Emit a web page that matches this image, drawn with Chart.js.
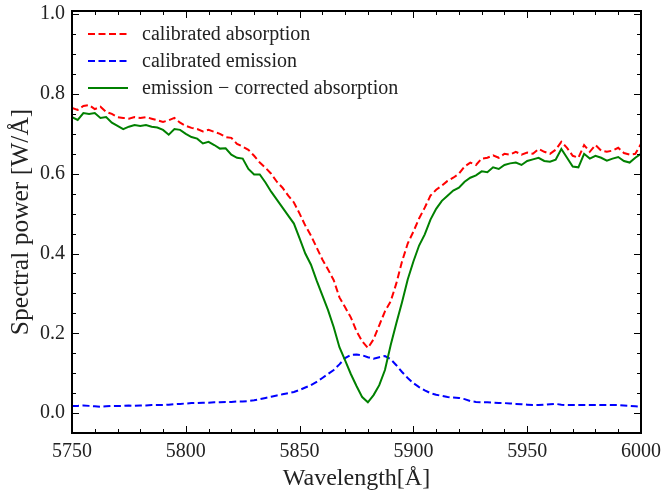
<!DOCTYPE html>
<html>
<head>
<meta charset="utf-8">
<script src="https://cdn.jsdelivr.net/npm/chart.js@4.4.0/dist/chart.umd.min.js"></script>
<style>
  html, body { margin: 0; padding: 0; background: #fff; }
  #wrap { width: 663px; height: 493px; }
</style>
</head>
<body>
<div id="wrap"><canvas id="chart" width="663" height="493"></canvas></div>
<script>
// wavelength grid (Å)
const wavelength = [
  5750, 5752.5, 5755, 5757.5, 5760, 5762.5, 5765, 5767.5, 5770, 5772.5,
  5775, 5777.5, 5780, 5782.5, 5785, 5787.5, 5790, 5792.5, 5795, 5797.5,
  5800, 5802.5, 5805, 5807.5, 5810, 5812.5, 5815, 5817.5, 5820, 5822.5,
  5825, 5827.5, 5830, 5832.5, 5835, 5837.5, 5840, 5842.5, 5845, 5847.5,
  5850, 5852.5, 5855, 5857.5, 5860, 5862.5, 5865, 5867.5, 5870, 5872.5,
  5875, 5877.5, 5880, 5882.5, 5885, 5887.5, 5890, 5892.5, 5895, 5897.5,
  5900, 5902.5, 5905, 5907.5, 5910, 5912.5, 5915, 5917.5, 5920, 5922.5,
  5925, 5927.5, 5930, 5932.5, 5935, 5937.5, 5940, 5942.5, 5945, 5947.5,
  5950, 5952.5, 5955, 5957.5, 5960, 5962.5, 5965, 5967.5, 5970, 5972.5,
  5975, 5977.5, 5980, 5982.5, 5985, 5987.5, 5990, 5992.5, 5995, 5997.5,
  6000
];

const absorption = [
  0.765, 0.760, 0.770, 0.772, 0.762, 0.768, 0.755, 0.750, 0.742, 0.740,
  0.738, 0.742, 0.740, 0.742, 0.738, 0.734, 0.730, 0.734, 0.740, 0.728,
  0.720, 0.715, 0.712, 0.706, 0.710, 0.705, 0.700, 0.692, 0.690, 0.675,
  0.668, 0.660, 0.645, 0.628, 0.615, 0.600, 0.580, 0.565, 0.545, 0.528,
  0.500, 0.470, 0.445, 0.415, 0.385, 0.360, 0.333, 0.290, 0.265, 0.240,
  0.205, 0.180, 0.163, 0.185, 0.220, 0.255, 0.280, 0.325, 0.380, 0.425,
  0.455, 0.488, 0.515, 0.545, 0.560, 0.570, 0.582, 0.590, 0.600, 0.618,
  0.628, 0.622, 0.638, 0.640, 0.646, 0.640, 0.650, 0.648, 0.655, 0.648,
  0.653, 0.650, 0.662, 0.655, 0.650, 0.660, 0.680, 0.665, 0.645, 0.640,
  0.672, 0.655, 0.672, 0.658, 0.655, 0.658, 0.665, 0.652, 0.648, 0.650,
  0.675
];

const emission = [
  0.018, 0.018, 0.019, 0.018, 0.017, 0.016, 0.017, 0.018, 0.018, 0.018,
  0.019, 0.018, 0.019, 0.019, 0.020, 0.020, 0.020, 0.021, 0.022, 0.023,
  0.024, 0.025, 0.025, 0.026, 0.026, 0.027, 0.027, 0.028, 0.028, 0.029,
  0.029, 0.030, 0.032, 0.035, 0.038, 0.041, 0.044, 0.047, 0.050, 0.053,
  0.058, 0.064, 0.070, 0.078, 0.088, 0.098, 0.108, 0.122, 0.138, 0.146,
  0.147, 0.145, 0.140, 0.136, 0.140, 0.143, 0.135, 0.120, 0.103, 0.088,
  0.075, 0.065, 0.057, 0.050, 0.046, 0.043, 0.040, 0.039, 0.038, 0.035,
  0.030, 0.028, 0.027, 0.027, 0.026, 0.025, 0.025, 0.024, 0.023, 0.022,
  0.021, 0.020, 0.020, 0.021, 0.022, 0.023, 0.021, 0.020, 0.020, 0.020,
  0.020, 0.020, 0.020, 0.020, 0.020, 0.020, 0.020, 0.019, 0.018, 0.017,
  0.016
];

const corrected = [
  0.742, 0.735, 0.752, 0.750, 0.752, 0.740, 0.742, 0.728, 0.720, 0.712,
  0.718, 0.722, 0.720, 0.722, 0.718, 0.716, 0.710, 0.698, 0.712, 0.710,
  0.700, 0.692, 0.688, 0.676, 0.680, 0.672, 0.663, 0.664, 0.648, 0.640,
  0.638, 0.612, 0.598, 0.598, 0.578, 0.555, 0.535, 0.515, 0.495, 0.475,
  0.438, 0.400, 0.372, 0.332, 0.295, 0.258, 0.215, 0.165, 0.132, 0.098,
  0.068, 0.040, 0.027, 0.045, 0.070, 0.108, 0.170, 0.225, 0.278, 0.335,
  0.380, 0.420, 0.448, 0.485, 0.512, 0.532, 0.545, 0.558, 0.565, 0.580,
  0.590, 0.596, 0.606, 0.604, 0.616, 0.612, 0.622, 0.626, 0.628, 0.622,
  0.632, 0.636, 0.640, 0.632, 0.630, 0.635, 0.662, 0.640, 0.618, 0.616,
  0.650, 0.638, 0.645, 0.640, 0.633, 0.638, 0.642, 0.632, 0.628, 0.640,
  0.650
];

const seriesLabels = ["calibrated absorption", "calibrated emission", "emission \u2212 corrected absorption"];
const xTicks = [5750, 5800, 5850, 5900, 5950, 6000];
const yTicks = [0.0, 0.2, 0.4, 0.6, 0.8, 1.0];

const serif = "'Liberation Serif', 'DejaVu Serif', serif";

const toPoints = (ys) => wavelength.map((x, i) => ({ x: x, y: ys[i] }));

// frame with inward ticks on all four sides
const framePlugin = {
  id: "frame",
  afterDraw(chart) {
    const { ctx, chartArea: a, scales } = chart;
    const xs = scales.x, ys = scales.y;
    ctx.save();
    ctx.strokeStyle = "#000";
    ctx.lineWidth = 1;
    ctx.beginPath();
    // x ticks: major every 50, minor every 10
    for (let v = 5750; v <= 6000; v += 10) {
      const px = Math.round(xs.getPixelForValue(v)) + 0.5;
      const len = (v % 50 === 0) ? 7 : 4;
      ctx.moveTo(px, a.bottom); ctx.lineTo(px, a.bottom - len);
      ctx.moveTo(px, a.top); ctx.lineTo(px, a.top + len);
    }
    // y ticks: major every 0.2, minor every 0.05
    for (let k = 0; k <= 20; k++) {
      const v = k * 0.05;
      const py = Math.round(ys.getPixelForValue(v)) + 0.5;
      const len = (k % 4 === 0) ? 7 : 4;
      ctx.moveTo(a.left, py); ctx.lineTo(a.left + len, py);
      ctx.moveTo(a.right, py); ctx.lineTo(a.right - len, py);
    }
    ctx.stroke();
    ctx.lineWidth = 2;
    ctx.strokeRect(a.left, a.top, a.right - a.left, a.bottom - a.top);
    ctx.restore();
  }
};

// legend inside the axes, upper left
const legendPlugin = {
  id: "innerLegend",
  afterDraw(chart) {
    const { ctx } = chart;
    const rows = [34, 61, 88];
    ctx.save();
    ctx.font = "20px " + serif;
    ctx.textBaseline = "middle";
    chart.data.datasets.forEach((ds, i) => {
      const y = rows[i];
      ctx.strokeStyle = ds.borderColor;
      ctx.lineWidth = ds.borderWidth;
      ctx.setLineDash(ds.borderDash || []);
      ctx.beginPath();
      ctx.moveTo(88, y); ctx.lineTo(128, y);
      ctx.stroke();
      ctx.setLineDash([]);
      ctx.fillStyle = "#222";
      ctx.fillText(ds.label, 142, y + 1);
    });
    ctx.restore();
  }
};

const ctx = document.getElementById("chart").getContext("2d");
new Chart(ctx, {
  type: "line",
  data: {
    datasets: [
      {
        label: seriesLabels[0],
        data: toPoints(absorption),
        borderColor: "#ff0000",
        borderWidth: 2,
        borderDash: [7, 3.5],
        pointRadius: 0,
        tension: 0,
        order: 3
      },
      {
        label: seriesLabels[1],
        data: toPoints(emission),
        borderColor: "#0000ff",
        borderWidth: 2,
        borderDash: [7, 3.5],
        pointRadius: 0,
        tension: 0,
        order: 2
      },
      {
        label: seriesLabels[2],
        data: toPoints(corrected),
        borderColor: "#008000",
        borderWidth: 2,
        pointRadius: 0,
        tension: 0,
        order: 1
      }
    ]
  },
  options: {
    responsive: false,
    animation: false,
    devicePixelRatio: 1,
    layout: { padding: { top: 11, right: 22, left: 0, bottom: 0 } },
    plugins: {
      legend: { display: false },
      tooltip: { enabled: false }
    },
    scales: {
      x: {
        type: "linear",
        min: 5750,
        max: 6000,
        afterBuildTicks: (s) => { s.ticks = xTicks.map((v) => ({ value: v })); },
        afterFit: (s) => { s.height = 60; s.paddingLeft = 0; s.paddingRight = 0; },
        grid: { display: false, drawTicks: false },
        border: { display: false },
        ticks: {
          padding: 7,
          maxRotation: 0,
          color: "#222",
          font: { family: serif, size: 20 },
          callback: (v) => String(v)
        },
        title: {
          display: true,
          text: "Wavelength[\u00c5]",
          color: "#222",
          font: { family: serif, size: 24 },
          padding: { top: 0, bottom: 0 }
        }
      },
      y: {
        type: "linear",
        min: -0.05,
        max: 1.008,
        afterBuildTicks: (s) => { s.ticks = yTicks.map((v) => ({ value: v })); },
        afterFit: (s) => { s.width = 72; s.paddingTop = 0; s.paddingBottom = 0; },
        grid: { display: false, drawTicks: false },
        border: { display: false },
        ticks: {
          padding: 7,
          color: "#222",
          font: { family: serif, size: 20 },
          callback: (v) => v.toFixed(1)
        },
        title: {
          display: true,
          text: "Spectral power [W/\u00c5]",
          color: "#222",
          font: { family: serif, size: 25.5 },
          padding: { top: 6, bottom: 0 }
        }
      }
    }
  },
  plugins: [framePlugin, legendPlugin]
});
</script>
</body>
</html>
